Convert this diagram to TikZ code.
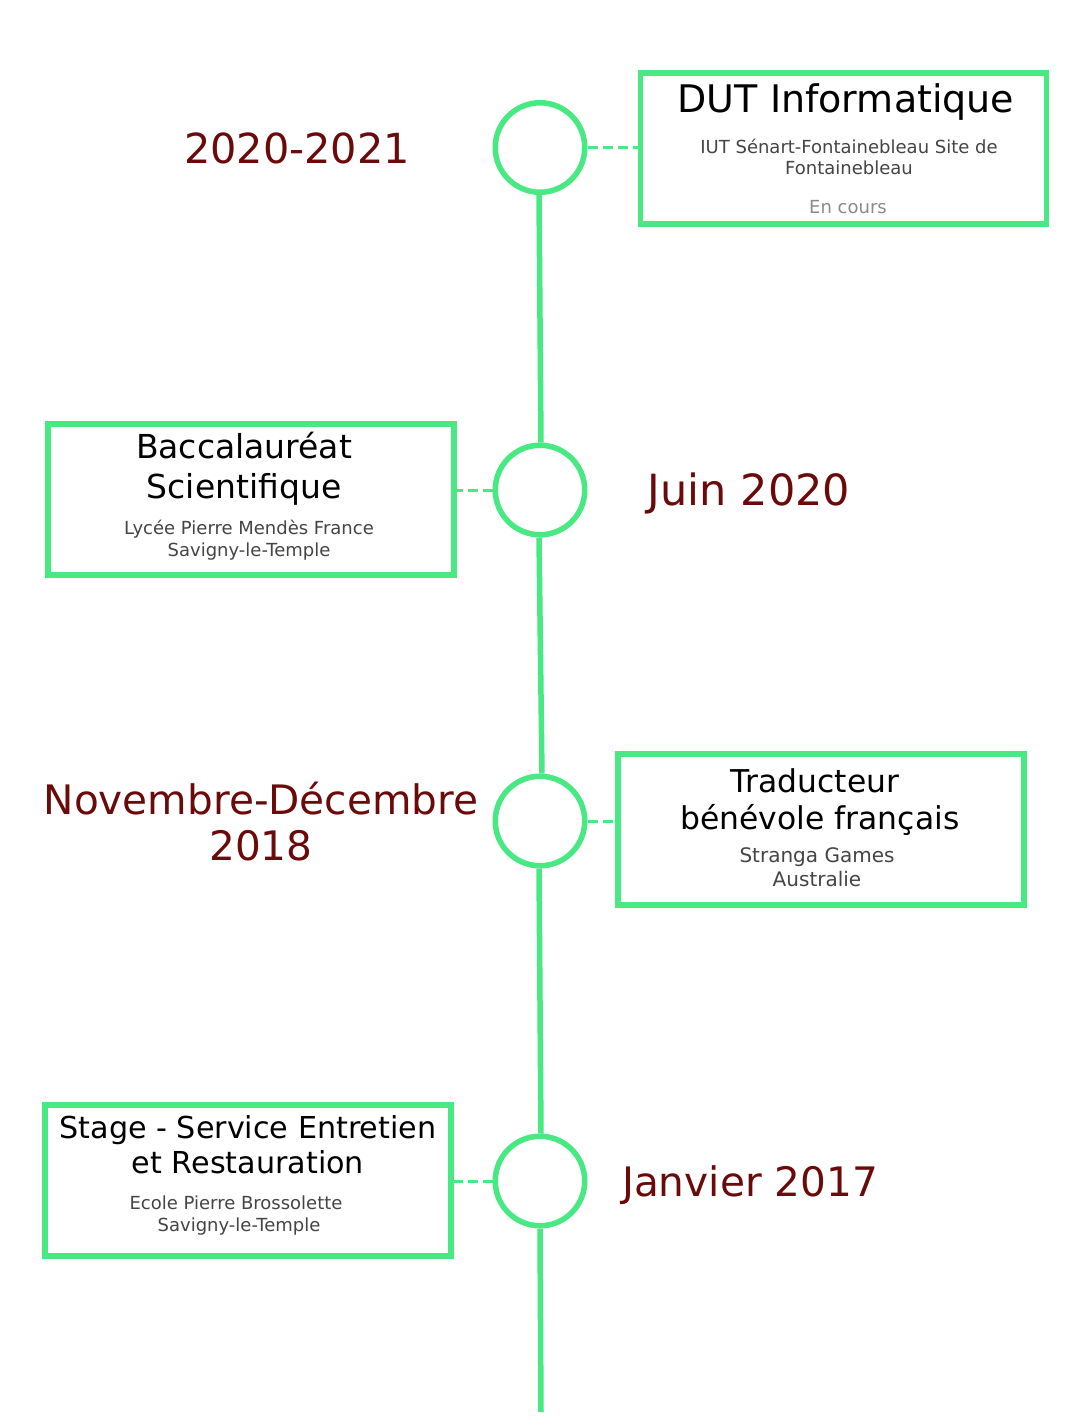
\documentclass[tikz,border=0pt]{standalone}
\usepackage{fontspec}
\setmainfont{DejaVu Sans}
\definecolor{tlgreen}{HTML}{48E882}
\definecolor{datered}{HTML}{6B0A0A}
\definecolor{subgray}{HTML}{444444}
\definecolor{lightgray}{HTML}{8A8A8A}
\begin{document}
\begin{tikzpicture}[x=0.5pt,y=-0.5pt,
  dot/.style={circle,draw=tlgreen,line width=2.75pt,minimum size=44.75pt,inner sep=0pt,fill=white},
  box/.style={rectangle,draw=tlgreen,line width=2.75pt,minimum width=203pt,minimum height=75.5pt,inner sep=0pt},
  spine/.style={draw=tlgreen,line width=2.75pt},
  link/.style={draw=tlgreen,line width=1.5pt,dash pattern=on 5pt off 2.5pt},
  datelbl/.style={anchor=base,text=datered,font=\fontsize{20.3pt}{23pt}\selectfont,inner sep=0pt},
  ttl/.style={anchor=base,text=black,inner sep=0pt},
  sub/.style={anchor=base,text=subgray,font=\fontsize{9pt}{11pt}\selectfont,inner sep=0pt}]
\useasboundingbox[fill=white] (0,0) rectangle (1080,1426);

% circles
\node[dot] (c1) at (540,147.5) {};
\node[dot] (c2) at (540,490) {};
\node[dot] (c3) at (540,821) {};
\node[dot] (c4) at (540,1181) {};
\coordinate (end) at (541,1412);

% spine
\draw[spine] ([xshift=-0.5pt]c1.south) -- ([xshift=0.5pt]c2.north);
\draw[spine] ([xshift=-0.5pt]c2.south) -- ([xshift=1pt]c3.north);
\draw[spine] ([xshift=-0.5pt]c3.south) -- ([xshift=0.5pt]c4.north);
\draw[spine] (c4.south) -- (end);

% boxes
\node[box] (b1) at (843.5,148.5) {};
\node[box] (b2) at (251,499.5) {};
\node[box] (b3) at (821,829.5) {};
\node[box] (b4) at (248,1180.5) {};

% dashed links
\draw[link] (c1.east) -- (c1.east -| b1.west);
\draw[link] (c2.west) -- (c2.west -| b2.east);
\draw[link] (c3.east) -- (c3.east -| b3.west);
\draw[link] (c4.west) -- (c4.west -| b4.east);

% box 1
\node[ttl,font=\fontsize{19pt}{22pt}\selectfont] (t1) at (846,112) {DUT Informatique};
\node[sub] (s1a) at (849,153) {IUT Sénart-Fontainebleau Site de};
\node[sub] (s1b) at (849,174.5) {Fontainebleau};
\node[sub,text=lightgray] (s1c) at (848,213) {En cours};

% box 2
\node[ttl,font=\fontsize{16.5pt}{20pt}\selectfont] (t2a) at (244,458) {Baccalauréat};
\node[ttl,font=\fontsize{16.5pt}{20pt}\selectfont] (t2b) at (244,498) {Scientifique};
\node[sub] (s2a) at (249,534) {Lycée Pierre Mendès France};
\node[sub] (s2b) at (249,556) {Savigny-le-Temple};

% box 3
\node[ttl,font=\fontsize{15.7pt}{19pt}\selectfont] (t3a) at (815,792) {Traducteur};
\node[ttl,font=\fontsize{15.7pt}{19pt}\selectfont] (t3b) at (820,829) {bénévole français};
\node[sub,font=\fontsize{10pt}{12pt}\selectfont] (s3a) at (817,862) {Stranga Games};
\node[sub,font=\fontsize{10pt}{12pt}\selectfont] (s3b) at (817,886) {Australie};

% box 4
\node[ttl,font=\fontsize{15.1pt}{18pt}\selectfont] (t4a) at (248,1138) {Stage - Service Entretien};
\node[ttl,font=\fontsize{15.1pt}{18pt}\selectfont] (t4b) at (248,1173) {et Restauration};
\node[sub] (s4a) at (236,1209) {Ecole Pierre Brossolette};
\node[sub] (s4b) at (239,1231) {Savigny-le-Temple};

% dates
\node[datelbl,font=\fontsize{20.7pt}{23pt}\selectfont] (d1) at (297,163) {2020-2021};
\node[datelbl,font=\fontsize{21.5pt}{23pt}\selectfont] (d2) at (749,505) {Juin 2020};
\node[datelbl] (d3a) at (261,814) {Novembre-Décembre};
\node[datelbl] (d3b) at (261,860) {2018};
\node[datelbl] (d4) at (750,1196) {Janvier 2017};
\end{tikzpicture}
\end{document}
